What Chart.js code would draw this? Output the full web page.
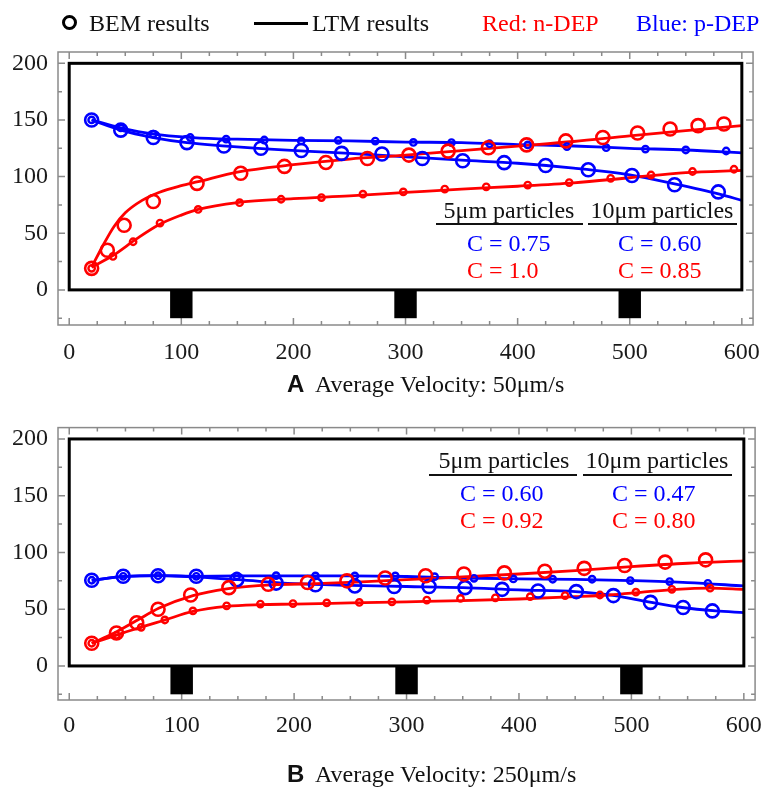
<!DOCTYPE html>
<html><head><meta charset="utf-8">
<script src="https://cdn.jsdelivr.net/npm/chart.js@4.4.1/dist/chart.umd.min.js"></script>
<style>
body{margin:0;background:#fff;width:773px;height:789px;position:relative;overflow:hidden;font-family:"Liberation Serif","Times New Roman",serif;color:#111;}
canvas{position:absolute;left:0;}
#ca{top:0}
#cb{top:395px}
.t{position:absolute;white-space:nowrap;font-size:24px;line-height:24px;}
.c{transform:translateX(-50%);}
.ul{position:absolute;height:0;border-top:2px solid #111;}
.red{color:#ff0000}.blue{color:#0000ff}
.ring{position:absolute;width:9px;height:9px;border:3px solid #000;border-radius:50%;}
.seg{position:absolute;height:3px;background:#000;}
.sans{font-family:"Liberation Sans",Arial,sans-serif;font-weight:bold;}
</style></head>
<body>
<canvas id="ca" width="773" height="395"></canvas>
<canvas id="cb" width="773" height="394"></canvas>

<!-- legend -->
<div class="ring" style="left:62px;top:15px"></div>
<div class="t" style="left:89px;top:11px">BEM results</div>
<div class="seg" style="left:254px;top:22px;width:54px"></div>
<div class="t" style="left:312px;top:11px">LTM results</div>
<div class="t red" style="left:482px;top:11px">Red: n-DEP</div>
<div class="t blue" style="left:636px;top:11px">Blue: p-DEP</div>

<!-- panel A annotations -->
<div class="t c" style="left:509px;top:198px">5μm particles</div>
<div class="ul" style="left:436px;top:223px;width:147px"></div>
<div class="t c" style="left:662px;top:198px">10μm particles</div>
<div class="ul" style="left:588px;top:223px;width:149px"></div>
<div class="t blue" style="left:467px;top:231px">C = 0.75</div>
<div class="t red" style="left:467px;top:258px">C = 1.0</div>
<div class="t blue" style="left:618px;top:231px">C = 0.60</div>
<div class="t red" style="left:618px;top:258px">C = 0.85</div>
<div class="t" style="left:287px;top:372px"><span class="sans">A</span>&nbsp; Average Velocity: 50μm/s</div>

<!-- panel B annotations -->
<div class="t c" style="left:504px;top:448px">5μm particles</div>
<div class="ul" style="left:429px;top:474px;width:148px"></div>
<div class="t c" style="left:657px;top:448px">10μm particles</div>
<div class="ul" style="left:583px;top:474px;width:149px"></div>
<div class="t blue" style="left:460px;top:481px">C = 0.60</div>
<div class="t red" style="left:460px;top:508px">C = 0.92</div>
<div class="t blue" style="left:612px;top:481px">C = 0.47</div>
<div class="t red" style="left:612px;top:508px">C = 0.80</div>
<div class="t" style="left:287px;top:762px"><span class="sans">B</span>&nbsp; Average Velocity: 250μm/s</div>

<script>
// ---------- axis ticks ----------
const xTickValues = [0, 100, 200, 300, 400, 500, 600];
const yTickValues = [0, 50, 100, 150, 200];
const electrodes = [[90, 110], [290, 310], [490, 510]];

// ---------- Panel A (50 µm/s) : BEM results ----------
const aRedBigX   = [20, 34, 49, 75, 114, 153, 192, 229, 266, 303, 338, 374, 408, 443, 476, 507, 536, 561, 584];
const aRedBigY   = [19, 35, 57, 78, 94, 103, 109, 112.5, 116, 119, 122.5, 125.5, 128, 131.5, 134.5, 138.5, 142, 145, 146.5];
const aRedSmallX = [20, 39, 57, 81, 115, 152, 189, 225, 262, 298, 335, 372, 409, 446, 483, 519, 556, 593];
const aRedSmallY = [19, 29.5, 42.5, 59, 71, 77, 80, 81.5, 84.5, 86.5, 89, 91, 92.5, 94.7, 98.5, 101.4, 104.5, 106.5];
const aBlueSmallX = [20, 46, 75, 108, 140, 174, 207, 240, 273, 307, 341, 375, 409, 444, 479, 514, 550, 586];
const aBlueSmallY = [150, 143, 137.5, 134.5, 133, 132.3, 131.5, 132, 131.4, 130.2, 130, 129, 128, 126.5, 125.5, 124.3, 123.5, 122.6];
const aBlueBigX  = [20, 46, 75, 105, 138, 171, 207, 243, 279, 315, 351, 388, 425, 463, 502, 540, 579];
const aBlueBigY  = [150, 141, 134.5, 130, 127, 125, 123, 120.5, 120, 116, 114, 112.3, 109.8, 106, 101, 92.8, 86.5];
// Panel A : LTM results
const aLtmRedBigX   = [20, 30, 40, 50, 65, 80, 100, 115, 150, 200, 250, 300, 350, 400, 450, 500, 550, 600];
const aLtmRedBigY   = [20, 39, 56, 68, 79, 86, 92, 95.5, 104, 110.5, 115.5, 119, 123, 127, 131, 136, 140.5, 145];
const aLtmRedSmallX = [20, 40, 60, 80, 100, 115, 150, 200, 250, 300, 350, 400, 450, 500, 550, 600];
const aLtmRedSmallY = [20, 31, 45, 57.5, 66, 71, 77, 80.5, 83, 86, 89, 91.5, 94.5, 99, 103.5, 105.5];
const aLtmBlueSmallX = [20, 46, 75, 110, 150, 200, 250, 300, 350, 400, 450, 500, 550, 600];
const aLtmBlueSmallY = [150, 143, 137.5, 134.5, 133, 132, 131.5, 130.5, 130, 128.3, 127, 125, 123.5, 121];
const aLtmBlueBigX  = [20, 46, 75, 105, 140, 175, 210, 250, 300, 350, 400, 450, 500, 540, 580, 600];
const aLtmBlueBigY  = [150, 141, 134.5, 130, 127, 124.5, 122.5, 120.5, 117.5, 114.5, 111.8, 107.5, 101.5, 93.5, 84.5, 79];

// ---------- Panel B (250 µm/s) : BEM results ----------
const bRedBigX   = [20, 42, 60, 79, 108, 142, 177, 212, 247, 281, 317, 351, 387, 423, 458, 494, 530, 566];
const bRedBigY   = [20, 29, 38, 50, 62.5, 69, 72, 73.5, 75, 77.5, 79.5, 81, 82, 83.5, 86, 88.5, 91.5, 93.5];
const bRedSmallX = [20, 42, 64, 85, 110, 140, 170, 199, 229, 258, 287, 318, 348, 379, 410, 441, 472, 504, 536, 570];
const bRedSmallY = [20, 27, 34, 40.5, 48.5, 53, 54.5, 55, 55.5, 56, 56.5, 58, 59.5, 60, 61, 62, 62.5, 65, 67.5, 68.5];
const bBlueBigX  = [20, 48, 79, 113, 149, 184, 219, 254, 289, 320, 352, 385, 417, 451, 484, 517, 546, 572];
const bBlueBigY  = [75.5, 79, 79.5, 79, 76, 73, 71.5, 70.5, 70, 70, 69, 67.5, 66, 65.5, 62, 56, 51.5, 48.5];
const bBlueSmallX = [20, 48, 79, 113, 149, 184, 219, 254, 290, 325, 360, 395, 430, 465, 499, 534, 568];
const bBlueSmallY = [75.5, 79, 79.5, 79, 79.3, 79.5, 79.3, 79.3, 79.3, 78.7, 77.2, 76.7, 76.4, 76.4, 75.2, 74.3, 72.8];
// Panel B : LTM results
const bLtmRedBigX   = [20, 40, 60, 80, 110, 140, 180, 220, 260, 300, 350, 400, 450, 500, 550, 600];
const bLtmRedBigY   = [20, 29, 40, 51, 62, 68, 71.5, 72.5, 74, 76, 78.5, 81, 84, 87.5, 90.5, 92.5];
const bLtmRedSmallX = [20, 40, 60, 85, 110, 140, 170, 200, 250, 300, 350, 400, 450, 480, 510, 540, 570, 600];
const bLtmRedSmallY = [20, 26.5, 33, 40.5, 48, 52.5, 54, 54.5, 55.5, 56.5, 57.5, 59, 61, 62.5, 65, 67.5, 68.5, 67.5];
const bLtmBlueSmallX = [20, 50, 80, 110, 150, 200, 250, 300, 350, 400, 450, 500, 550, 600];
const bLtmBlueSmallY = [75.5, 79, 79.5, 79, 79.3, 79.3, 79.3, 78.8, 77.5, 76.7, 76.3, 75.2, 73.5, 70.5];
const bLtmBlueBigX  = [20, 50, 80, 110, 150, 200, 250, 300, 350, 400, 450, 485, 515, 545, 575, 600];
const bLtmBlueBigY  = [75.5, 79, 79.5, 78.5, 76, 72.5, 71, 70, 69, 67, 65.5, 62, 56.5, 51.5, 48.5, 47];

const RED = '#ff0000', BLUE = '#0000ff';
const pts = (xs, ys) => xs.map((x, i) => ({x: x, y: ys[i]}));

function bem(label, xs, ys, color, big) {
  return {type: 'scatter', label, data: pts(xs, ys), showLine: false,
    borderColor: color, backgroundColor: 'rgba(255,255,255,0)',
    pointRadius: big ? 6.5 : 3.2, pointBorderWidth: big ? 2.6 : 2.4, pointHoverRadius: 0, order: 1};
}
function ltm(label, xs, ys, color) {
  return {type: 'scatter', label, data: pts(xs, ys), showLine: true,
    borderColor: color, borderWidth: 2.8, pointRadius: 0, fill: false,
    cubicInterpolationMode: 'monotone', order: 2};
}

const framePlugin = {
  id: 'frame',
  beforeDatasetsDraw(chart) {
    const {ctx, chartArea: a, scales: {x, y}} = chart;
    ctx.save();
    ctx.strokeStyle = '#8a8a8a';
    ctx.lineWidth = 1.5;
    ctx.strokeRect(a.left, a.top, a.right - a.left, a.bottom - a.top);
    ctx.beginPath();
    for (let v = 0; v <= 600; v += 25) {
      const px = x.getPixelForValue(v);
      const L = v % 100 === 0 ? 7 : 4;
      ctx.moveTo(px, a.top); ctx.lineTo(px, a.top + L);
      ctx.moveTo(px, a.bottom); ctx.lineTo(px, a.bottom - L);
    }
    for (let v = -25; v <= 200; v += 25) {
      const py = y.getPixelForValue(v);
      const L = v % 50 === 0 ? 7 : 4;
      ctx.moveTo(a.left, py); ctx.lineTo(a.left + L, py);
      ctx.moveTo(a.right, py); ctx.lineTo(a.right - L, py);
    }
    ctx.stroke();
    ctx.fillStyle = '#000';
    electrodes.forEach(([x0, x1]) => {
      const l = x.getPixelForValue(x0), r = x.getPixelForValue(x1);
      const t = y.getPixelForValue(0), b = y.getPixelForValue(-25);
      ctx.fillRect(l, t, r - l, b - t);
    });
    ctx.restore();
  },
  afterDatasetsDraw(chart) {
    const {ctx, scales: {x, y}} = chart;
    ctx.save();
    ctx.strokeStyle = '#000';
    ctx.lineWidth = 3;
    const l = x.getPixelForValue(0), r = x.getPixelForValue(600);
    const t = y.getPixelForValue(200), b = y.getPixelForValue(0);
    ctx.strokeRect(l, t, r - l, b - t);
    ctx.restore();
  }
};

function makeChart(id, datasets, H, top, bottom, yMin, xPad) {
  return new Chart(document.getElementById(id), {
    data: {datasets},
    options: {
      responsive: false, animation: false, devicePixelRatio: 1,
      layout: {padding: {top: top, right: 10, left: 0, bottom: 0}},
      plugins: {legend: {display: false}, tooltip: {enabled: false}},
      scales: {
        x: {type: 'linear', min: -10, max: 610,
          afterBuildTicks: s => { s.ticks = xTickValues.map(v => ({value: v})); },
          afterFit: s => { s.height = H - bottom; },
          grid: {display: false, drawTicks: false}, border: {display: false},
          ticks: {padding: xPad, autoSkip: false, maxRotation: 0, color: '#1a1a1a',
            font: {family: 'Liberation Serif', size: 24}}},
        y: {type: 'linear', min: yMin, max: 210,
          afterBuildTicks: s => { s.ticks = yTickValues.map(v => ({value: v})); },
          afterFit: s => { s.width = 58; },
          grid: {display: false, drawTicks: false}, border: {display: false},
          ticks: {padding: 10, color: '#1a1a1a', font: {family: 'Liberation Serif', size: 24}}}
      }
    },
    plugins: [framePlugin]
  });
}

makeChart('ca', [
  ltm('LTM n-DEP 10μm', aLtmRedBigX, aLtmRedBigY, RED),
  ltm('LTM n-DEP 5μm', aLtmRedSmallX, aLtmRedSmallY, RED),
  ltm('LTM p-DEP 5μm', aLtmBlueSmallX, aLtmBlueSmallY, BLUE),
  ltm('LTM p-DEP 10μm', aLtmBlueBigX, aLtmBlueBigY, BLUE),
  bem('BEM n-DEP 10μm', aRedBigX, aRedBigY, RED, true),
  bem('BEM n-DEP 5μm', aRedSmallX, aRedSmallY, RED, false),
  bem('BEM p-DEP 5μm', aBlueSmallX, aBlueSmallY, BLUE, false),
  bem('BEM p-DEP 10μm', aBlueBigX, aBlueBigY, BLUE, true)
], 395, 52, 325, -31, 13);

makeChart('cb', [
  ltm('LTM n-DEP 10μm', bLtmRedBigX, bLtmRedBigY, RED),
  ltm('LTM n-DEP 5μm', bLtmRedSmallX, bLtmRedSmallY, RED),
  ltm('LTM p-DEP 5μm', bLtmBlueSmallX, bLtmBlueSmallY, BLUE),
  ltm('LTM p-DEP 10μm', bLtmBlueBigX, bLtmBlueBigY, BLUE),
  bem('BEM n-DEP 10μm', bRedBigX, bRedBigY, RED, true),
  bem('BEM n-DEP 5μm', bRedSmallX, bRedSmallY, RED, false),
  bem('BEM p-DEP 5μm', bBlueSmallX, bBlueSmallY, BLUE, false),
  bem('BEM p-DEP 10μm', bBlueBigX, bBlueBigY, BLUE, true)
], 394, 32.6, 305, -30, 11);
</script>
</body></html>
